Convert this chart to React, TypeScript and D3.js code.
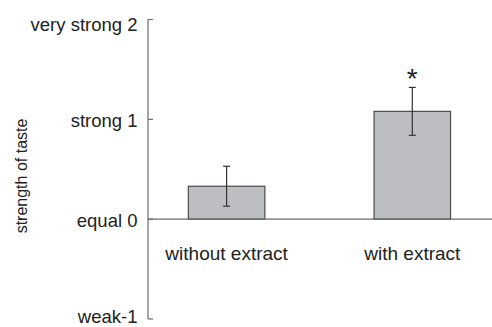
import React from "react";
import * as d3 from "d3";

const categories = ["without extract", "with extract"];
const means = [0.33, 1.08];
const errors = [0.2, 0.24];
const significant = [false, true];
const tickValues = [-1, 0, 1, 2];
const tickLabels = ["weak-1", "equal 0", "strong 1", "very strong 2"];
const yTitle = "strength of taste";

const W = 492;
const H = 327;

export default function App() {
  const x0 = 148;
  const y = d3.scaleLinear().domain([-1, 2]).range([319, 19.5]);
  const x = d3
    .scaleBand()
    .domain(categories)
    .range([95.5, 543.4])
    .paddingInner(0.588)
    .paddingOuter(0.5);
  const font = "'Liberation Sans', Arial, Helvetica, sans-serif";
  const axisColor = "#6b6b6b";
  const textColor = "#222";
  const labelOffset = (i: number) => (i === tickValues.length - 1 ? 11.5 : i === 0 ? 3.8 : 7.5);
  return (
    <svg width={W} height={H} style={{ position: "absolute", left: 0, top: 0, background: "#fff" }} fontFamily={font}>
      {/* y axis */}
      <line x1={x0} x2={x0} y1={y(2)} y2={y(-1)} stroke={axisColor} strokeWidth={1.2} />
      {tickValues.map((v, i) => (
        <g key={v}>
          <line x1={x0} x2={x0 + 5} y1={y(v)} y2={y(v)} stroke={axisColor} strokeWidth={1.2} />
          <text x={137.5} y={y(v) + labelOffset(i)} textAnchor="end" fontSize={18.5} fill={textColor}>
            {tickLabels[i]}
          </text>
        </g>
      ))}
      <text transform={`translate(27,${176}) rotate(-90)`} textAnchor="middle" fontSize={16} fill={textColor}>
        {yTitle}
      </text>
      {/* bars */}
      {categories.map((c, i) => {
        const bx = x(c)!;
        const bw = x.bandwidth();
        const cx = bx + bw / 2;
        return (
          <g key={c}>
            <rect x={bx} y={y(means[i])} width={bw} height={y(0) - y(means[i])} fill="#bdbec1" stroke="#4a4a4a" strokeWidth={1.2} />
            <line x1={cx} x2={cx} y1={y(means[i] + errors[i])} y2={y(means[i] - errors[i])} stroke="#333" strokeWidth={1.2} />
            <line x1={cx - 3.5} x2={cx + 3.5} y1={y(means[i] + errors[i])} y2={y(means[i] + errors[i])} stroke="#333" strokeWidth={1.2} />
            <line x1={cx - 3.5} x2={cx + 3.5} y1={y(means[i] - errors[i])} y2={y(means[i] - errors[i])} stroke="#333" strokeWidth={1.2} />
            {significant[i] && (
              <text x={cx} y={y(means[i] + errors[i]) + 1} textAnchor="middle" fontSize={28} fill={textColor}>
                *
              </text>
            )}
            <text x={cx} y={260} textAnchor="middle" fontSize={19} fill={textColor}>
              {c}
            </text>
          </g>
        );
      })}
      {/* zero line */}
      <line x1={x0} x2={W} y1={y(0)} y2={y(0)} stroke={axisColor} strokeWidth={1.2} />
    </svg>
  );
}
